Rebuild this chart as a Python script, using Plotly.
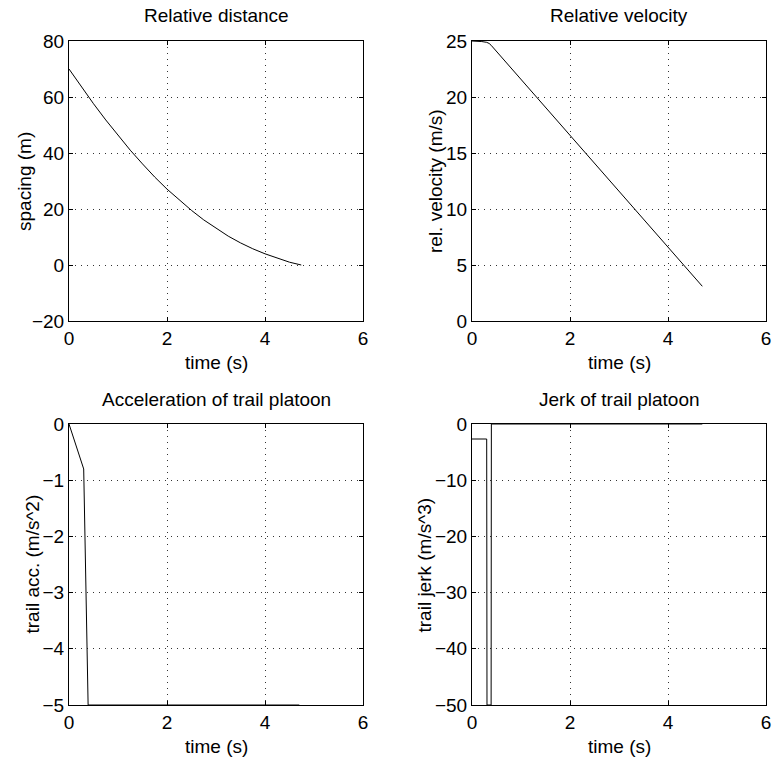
import plotly.graph_objects as go

# ---- data ----
t_spacing = [0, 0.1, 0.2, 0.3, 0.39, 0.5, 0.75, 1.0, 1.25, 1.5, 1.75, 2.0, 2.25, 2.5,
             2.75, 3.0, 3.25, 3.5, 3.75, 4.0, 4.25, 4.5, 4.74]
spacing = [70, 67.5, 65.0, 62.5, 60.3, 57.6, 51.8, 46.2, 41.0, 36.1, 31.4, 27.1, 23.2, 19.5,
           16.1, 13.1, 10.3, 7.9, 5.8, 4.0, 2.4, 1.0, 0.0]

t_vel = [0, 0.1, 0.2, 0.3, 0.35, 0.39, 4.7]
rel_vel = [25.0, 24.99, 24.95, 24.88, 24.78, 24.62, 3.1]

t_acc = [0, 0.3, 0.39, 4.7]
trail_acc = [0, -0.8, -5.0, -5.0]

t_jerk = [0, 0.3, 0.306, 0.39, 0.395, 4.7]
trail_jerk = [-2.67, -2.67, -50, -50, 0, 0]

x_ticks = [0, 2, 4, 6]

W, H = 772, 767
FONT = "Liberation Sans, Arial, sans-serif"
FS = 19

panels = [
    # (x px range, y px range, xdata, ydata, yrange, ytick step, title, ylabel, ylabel x px)
    ((69, 363), (41, 321), t_spacing, spacing, [-20, 80], 20, "Relative distance", "spacing (m)", 25),
    ((472, 766), (41, 321), t_vel, rel_vel, [0, 25], 5, "Relative velocity", "rel. velocity (m/s)", 436),
    ((69, 363), (424, 705), t_acc, trail_acc, [-5, 0], 1, "Acceleration of trail platoon", "trail acc. (m/s^2)", 32),
    ((472, 766), (424, 705), t_jerk, trail_jerk, [-50, 0], 10, "Jerk of trail platoon", "trail jerk (m/s^3)", 424),
]

fig = go.Figure()
annotations = []
for i, (xr, yr, xd, yd, yrange, ystep, title, ylabel, ylx) in enumerate(panels):
    n = "" if i == 0 else str(i + 1)
    fig.add_trace(go.Scatter(x=xd, y=yd, mode="lines",
                             line=dict(color="black", width=1),
                             xaxis="x" + n, yaxis="y" + n, showlegend=False))
    axcommon = dict(showline=True, linecolor="black", linewidth=1, mirror="ticks",
                    ticks="inside", ticklen=4, tickcolor="black", automargin=False,
                    showgrid=True, gridcolor="#333333", griddash="1px,5px", gridwidth=1,
                    zeroline=False, tickfont=dict(family=FONT, size=FS, color="black"))
    fig.layout["xaxis" + n] = dict(domain=[xr[0] / W, xr[1] / W], range=[0, 6],
                                   tickvals=x_ticks, anchor="y" + n, **axcommon)
    fig.layout["yaxis" + n] = dict(domain=[1 - yr[1] / H, 1 - yr[0] / H], range=yrange,
                                   dtick=ystep, anchor="x" + n, **axcommon)
    cx = (xr[0] + xr[1]) / 2 / W
    annotations.append(dict(text=title, x=cx, y=1 - (yr[0] - 25) / H, xref="paper", yref="paper",
                            showarrow=False, xanchor="center", yanchor="middle",
                            font=dict(family=FONT, size=FS, color="black")))
    annotations.append(dict(text="time (s)", x=cx, y=1 - (yr[1] + 41) / H, xref="paper", yref="paper",
                            showarrow=False, xanchor="center", yanchor="middle",
                            font=dict(family=FONT, size=FS, color="black")))
    annotations.append(dict(text=ylabel, x=ylx / W, y=1 - (yr[0] + yr[1]) / 2 / H, xref="paper",
                            yref="paper", showarrow=False, xanchor="center", yanchor="middle",
                            textangle=-90, font=dict(family=FONT, size=FS, color="black")))

fig.update_layout(width=W, height=H, margin=dict(l=0, r=0, t=0, b=0, autoexpand=False),
                  paper_bgcolor="white", plot_bgcolor="white", annotations=annotations,
                  hovermode=False)
fig.write_html("out.html", config={"displayModeBar": False, "staticPlot": True},
               post_script="document.body.style.margin='0px';document.body.style.overflow='hidden';")
